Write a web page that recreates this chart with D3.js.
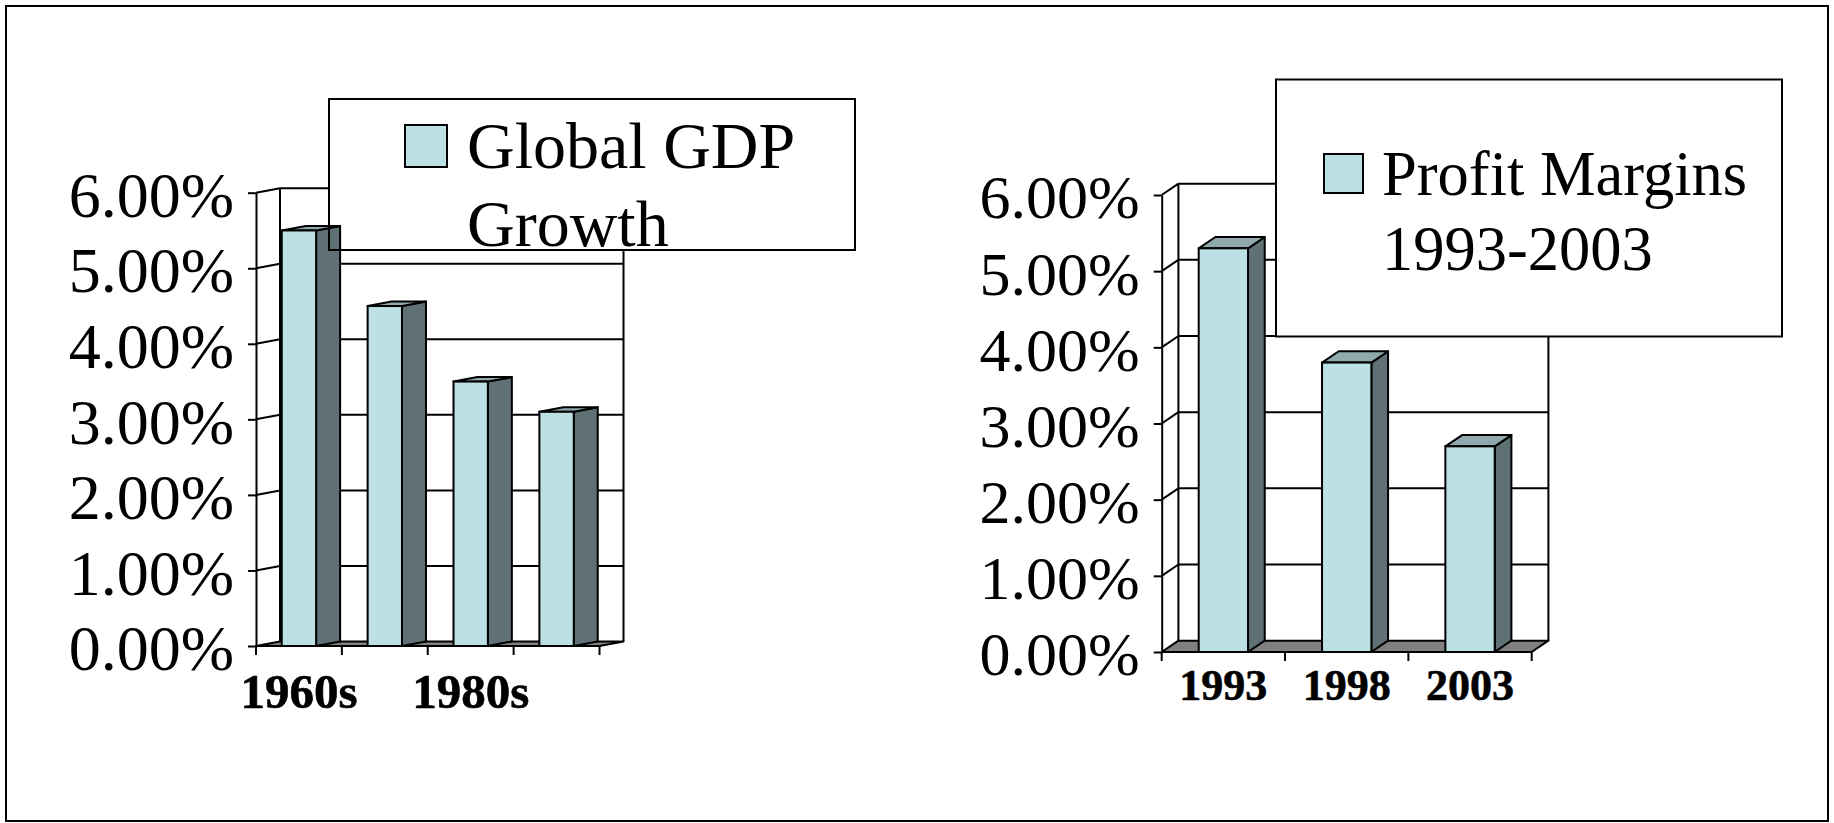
<!DOCTYPE html>
<html>
<head>
<meta charset="utf-8">
<script src="https://cdn.jsdelivr.net/npm/d3@7"></script>
<style>
  html, body { margin: 0; padding: 0; background: #fff; }
  svg { display: block; }
  text { font-family: "Liberation Serif", "Times New Roman", serif; fill: #000; }
</style>
</head>
<body>
<svg id="chart" width="1834" height="823"></svg>
<script>
// Global GDP growth by decade
const gdpCategories = ["1960s", "1970s", "1980s", "1990s"];
const gdpValues = [0.055, 0.045, 0.035, 0.031];
const gdpLegend = ["Global GDP", "Growth"];

// Profit margins 1993-2003
const profitCategories = ["1993", "1998", "2003"];
const profitValues = [0.053, 0.038, 0.027];
const profitLegend = ["Profit Margins", "1993-2003"];

// Shared value axis
const yTicks = [0, 0.01, 0.02, 0.03, 0.04, 0.05, 0.06];

const COLORS = {
  front: "#bce0e3",
  side: "#5f7174",
  top: "#8fa9ad",
  floor: "#808080",
  line: "#000"
};

const svg = d3.select("#chart");

// outer frame
svg.append("rect")
  .attr("x", 6).attr("y", 6).attr("width", 1822).attr("height", 815)
  .attr("fill", "#fff").attr("stroke", "#000").attr("stroke-width", 2);

function drawChart(cfg) {
  const g = svg.append("g");
  const { x0, x1, yZero, yTop, dx, dy } = cfg;

  const y = d3.scaleLinear().domain([0, 0.06]).range([yZero, yTop]);
  const x = d3.scaleBand().domain(cfg.categories).range([x0, x1])
    .paddingInner(0.6).paddingOuter(0.3);
  const step = x.step();

  const walls = g.append("g");
  // back wall gridlines
  walls.selectAll("line.grid").data(yTicks.filter(d => d > 0)).join("line")
    .attr("class", "grid")
    .attr("x1", x0 + dx).attr("x2", x1 + dx)
    .attr("y1", d => y(d) + dy).attr("y2", d => y(d) + dy)
    .attr("stroke", COLORS.line).attr("stroke-width", 2);
  // left wall gridlines
  walls.selectAll("line.lgrid").data(yTicks.filter(d => d > 0)).join("line")
    .attr("class", "lgrid")
    .attr("x1", x0).attr("x2", x0 + dx)
    .attr("y1", d => y(d)).attr("y2", d => y(d) + dy)
    .attr("stroke", COLORS.line).attr("stroke-width", 2);
  // back wall edges
  walls.append("path")
    .attr("d", `M${x0 + dx},${yZero + dy}V${yTop + dy}M${x1 + dx},${yZero + dy}V${yTop + dy}`)
    .attr("stroke", COLORS.line).attr("stroke-width", 2).attr("fill", "none");
  // floor
  walls.append("path")
    .attr("d", `M${x0},${yZero}L${x0 + dx},${yZero + dy}L${x1 + dx},${yZero + dy}L${x1},${yZero}Z`)
    .attr("fill", COLORS.floor).attr("stroke", COLORS.line).attr("stroke-width", 2)
    .attr("stroke-linejoin", "round");

  // legend background sits over the walls
  const lg = cfg.legend;
  g.append("rect")
    .attr("x", lg.x).attr("y", lg.y).attr("width", lg.w).attr("height", lg.h)
    .attr("fill", "#fff");

  // 3D columns
  const bars = g.append("g");
  const data = cfg.categories.map((c, i) => ({ c, v: cfg.values[i] }));
  const bw = x.bandwidth();
  bars.selectAll("path.side").data(data).join("path")
    .attr("class", "side")
    .attr("d", d => {
      const xr = x(d.c) + bw, yt = y(d.v);
      return `M${xr},${yt}L${xr + dx},${yt + dy}L${xr + dx},${yZero + dy}L${xr},${yZero}Z`;
    })
    .attr("fill", COLORS.side).attr("stroke", COLORS.line).attr("stroke-width", 2)
    .attr("stroke-linejoin", "round");
  bars.selectAll("path.top").data(data).join("path")
    .attr("class", "top")
    .attr("d", d => {
      const xl = x(d.c), xr = xl + bw, yt = y(d.v);
      return `M${xl},${yt}L${xl + dx},${yt + dy}L${xr + dx},${yt + dy}L${xr},${yt}Z`;
    })
    .attr("fill", COLORS.top).attr("stroke", COLORS.line).attr("stroke-width", 2)
    .attr("stroke-linejoin", "round");
  bars.selectAll("rect.front").data(data).join("rect")
    .attr("class", "front")
    .attr("x", d => x(d.c)).attr("width", bw)
    .attr("y", d => y(d.v)).attr("height", d => yZero - y(d.v))
    .attr("fill", COLORS.front).attr("stroke", COLORS.line).attr("stroke-width", 2);

  // value axis on the front edge of the left wall
  const yAxis = g.append("g")
    .attr("transform", `translate(${x0},0)`)
    .call(d3.axisLeft(y).tickValues(yTicks).tickFormat(d3.format(".2%"))
      .tickSize(8).tickSizeOuter(0).tickPadding(14));
  yAxis.select(".domain").attr("stroke", COLORS.line).attr("stroke-width", 2);
  yAxis.selectAll(".tick line").attr("stroke", COLORS.line).attr("stroke-width", 2);
  yAxis.selectAll(".tick text")
    .attr("font-family", "Liberation Serif")
    .attr("font-size", cfg.yFont)
    .attr("fill", "#000")
    .attr("dy", "0.37em");

  // category axis: ticks on band boundaries, labels centred in bands
  const bounds = d3.range(cfg.categories.length + 1).map(i => x0 + i * step);
  g.selectAll("line.xtick").data(bounds).join("line")
    .attr("class", "xtick")
    .attr("x1", d => d).attr("x2", d => d)
    .attr("y1", yZero).attr("y2", yZero + 9)
    .attr("stroke", COLORS.line).attr("stroke-width", 2);
  g.selectAll("text.xlab")
    .data(cfg.categories.filter((c, i) => i % cfg.labelEvery === 0))
    .join("text")
    .attr("class", "xlab")
    .attr("x", d => x(d) + bw / 2)
    .attr("y", cfg.xLabelY)
    .attr("text-anchor", "middle")
    .attr("font-size", cfg.xFont)
    .attr("font-weight", "bold")
    .attr("stroke", "#000").attr("stroke-width", 0.6)
    .text(d => d);

  // legend
  g.append("rect")
    .attr("x", lg.x).attr("y", lg.y).attr("width", lg.w).attr("height", lg.h)
    .attr("fill", "none").attr("stroke", "#000").attr("stroke-width", 2);
  g.append("rect")
    .attr("x", lg.sx).attr("y", lg.sy).attr("width", lg.ss).attr("height", lg.ss)
    .attr("fill", COLORS.front).attr("stroke", "#000").attr("stroke-width", 2);
  g.selectAll("text.leg").data(cfg.legendText).join("text")
    .attr("class", "leg")
    .attr("x", lg.tx)
    .attr("y", (d, i) => lg.ty + i * lg.lh)
    .attr("font-size", lg.font)
    .text(d => d);
}

drawChart({
  categories: gdpCategories,
  values: gdpValues,
  legendText: gdpLegend,
  x0: 256, x1: 599.5, yZero: 646, yTop: 192.7, dx: 24, dy: -4.5,
  yFont: 64, xFont: 49, xLabelY: 708, labelEvery: 2,
  legend: { x: 329, y: 99, w: 526, h: 151, sx: 405, sy: 125, ss: 42,
            tx: 467, ty: 168, lh: 78, font: 66 }
});

drawChart({
  categories: profitCategories,
  values: profitValues,
  legendText: profitLegend,
  x0: 1161.7, x1: 1531.7, yZero: 652, yTop: 195, dx: 16.7, dy: -11.3,
  yFont: 62, xFont: 44, xLabelY: 700, labelEvery: 1,
  legend: { x: 1276, y: 79.5, w: 506, h: 257, sx: 1324, sy: 154, ss: 39,
            tx: 1382, ty: 195, lh: 75, font: 62.5 }
});
</script>
</body>
</html>
